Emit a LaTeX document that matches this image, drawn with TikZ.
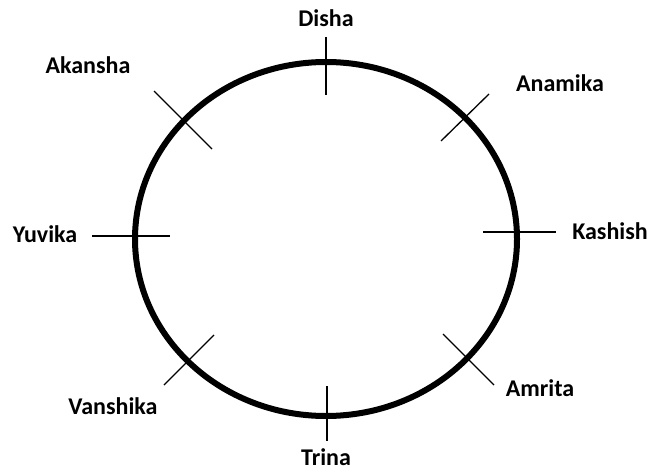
\documentclass[tikz,border=0pt]{standalone}
\usepackage{fontspec}
\setmainfont{Carlito}
\usetikzlibrary{positioning}

\begin{document}
\begin{tikzpicture}[x=1pt, y=-1pt,
    seat/.style={font=\fontsize{24}{26}\selectfont\bfseries, inner sep=0pt},
    ring/.style={draw=black, line width=6pt},
    seatline/.style={draw=black, line width=1.3pt}
  ]
  \useasboundingbox (0,0) rectangle (652,473);

  % round table
  \draw[ring] (326,239) ellipse [x radius=191pt, y radius=177pt];

  % seat marks (inner/outer ends)
  \coordinate (dishaA) at (326,37);   \coordinate (dishaB) at (326,95);
  \coordinate (akanA) at (154,91);    \coordinate (akanB) at (212,149);
  \coordinate (anamA) at (489,94);    \coordinate (anamB) at (441,141);
  \coordinate (kashA) at (483,232);   \coordinate (kashB) at (556,232);
  \coordinate (amriA) at (443,334);   \coordinate (amriB) at (494,385);
  \coordinate (trinA) at (327,386);   \coordinate (trinB) at (327,441);
  \coordinate (vansA) at (164,385);   \coordinate (vansB) at (214,335);
  \coordinate (yuviA) at (92,236);    \coordinate (yuviB) at (170,236);

  \draw[seatline] (dishaA) -- (dishaB);
  \draw[seatline] (akanA) -- (akanB);
  \draw[seatline] (anamA) -- (anamB);
  \draw[seatline] (kashA) -- (kashB);
  \draw[seatline] (amriA) -- (amriB);
  \draw[seatline] (trinA) -- (trinB);
  \draw[seatline] (vansA) -- (vansB);
  \draw[seatline] (yuviA) -- (yuviB);

  % names
  \node[seat] (disha) at (326,18) {Disha};
  \node[seat] (akansha) at (88,65) {Akansha};
  \node[seat] (anamika) at (560,83) {Anamika};
  \node[seat] (kashish) at (610,231) {Kashish};
  \node[seat] (amrita) at (540,388) {Amrita};
  \node[seat] (trina) at (326,457) {Trina};
  \node[seat] (vanshika) at (113,406) {Vanshika};
  \node[seat] (yuvika) at (45,234) {Yuvika};
\end{tikzpicture}
\end{document}
